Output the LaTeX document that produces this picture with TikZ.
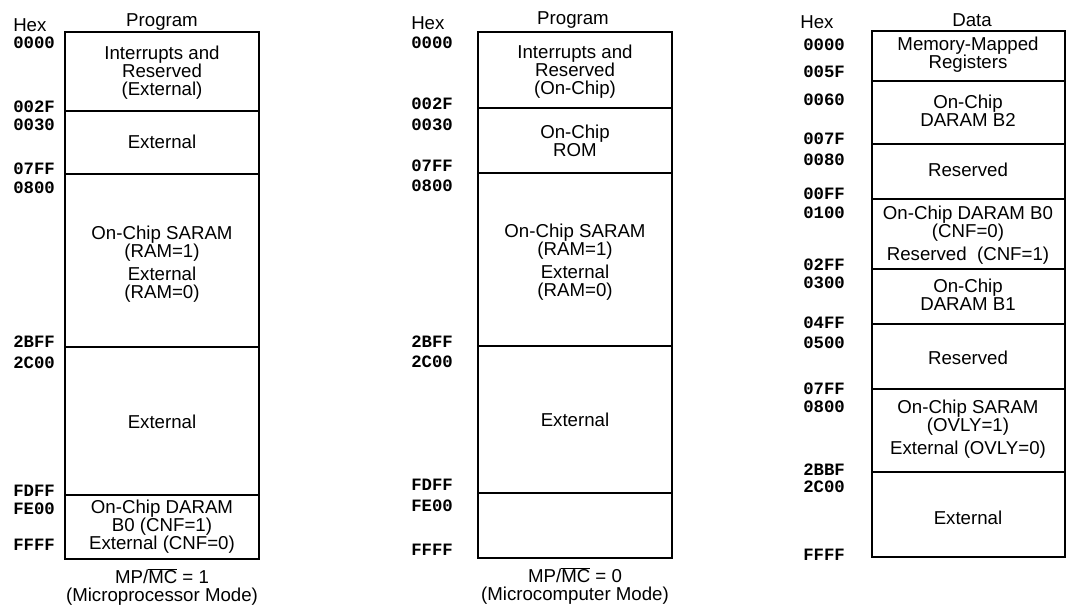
\documentclass[tikz,border=0pt]{standalone}
\usepackage{fontspec}
\setmainfont{Liberation Sans}
\setmonofont{Liberation Mono}
\usetikzlibrary{positioning}

\begin{document}
\begin{tikzpicture}[x=0.75pt, y=-0.75pt,
    mapbox/.style={line width=1.4pt},
    divider/.style={line width=1.0pt},
    memtext/.style={font=\fontsize{14}{13.5}\selectfont, align=center, inner sep=0pt},
    hexlabel/.style={font=\fontsize{13}{13}\selectfont\ttfamily\bfseries, anchor=west, inner sep=0pt}]

    \useasboundingbox (0,0) rectangle (1067,609);

    % ── LEFT: PROGRAM, MICROPROCESSOR MODE ────────────────────────────
    \begin{scope}
        \node[memtext, anchor=west] (hexA) at (13,25) {Hex};
        \node[memtext] (progA) at (162,22) {Program};
        \draw[mapbox] (65,32) rectangle (259,559);
        \foreach \ypos in {111,174,347,495}
            \draw[divider] (65,\ypos) -- (259,\ypos);
        \foreach \addr/\ypos in {0000/43,002F/107,0030/125,07FF/169,0800/188,
                                 2BFF/342,2C00/363,FDFF/491,FE00/509,FFFF/545}
            \node[hexlabel] (hexA-\addr) at (13,\ypos) {\addr};

        \node[memtext] (intA) at (162,73) {Interrupts and\\Reserved\\(External)};
        \node[memtext] (extA1) at (162,142) {External};
        \node[memtext] (saramA) at (162,264) {On-Chip SARAM\\(RAM=1)\\[4pt]External\\(RAM=0)};
        \node[memtext] (extA2) at (162,422) {External};
        \node[memtext] (daramA) at (162,527) {On-Chip DARAM\\B0 (CNF=1)\\External (CNF=0)};
        \node[memtext] (modeA) at (162,587) {MP/$\overline{\mbox{MC}}$ = 1\\(Microprocessor Mode)};
    \end{scope}

    % ── MIDDLE: PROGRAM, MICROCOMPUTER MODE ───────────────────────────
    \begin{scope}
        \node[memtext, anchor=west] (hexB) at (411,23) {Hex};
        \node[memtext] (progB) at (573,20) {Program};
        \draw[mapbox] (478,32) rectangle (672,558);
        \foreach \ypos in {108,173,346,493}
            \draw[divider] (478,\ypos) -- (672,\ypos);
        \foreach \addr/\ypos in {0000/43,002F/104,0030/125,07FF/166,0800/186,
                                 2BFF/342,2C00/362,FDFF/485,FE00/506,FFFF/550}
            \node[hexlabel] (hexB-\addr) at (411,\ypos) {\addr};

        \node[memtext] (intB) at (575,72) {Interrupts and\\Reserved\\(On-Chip)};
        \node[memtext] (romB) at (575,141) {On-Chip\\ROM};
        \node[memtext] (saramB) at (575,262) {On-Chip SARAM\\(RAM=1)\\[4pt]External\\(RAM=0)};
        \node[memtext] (extB) at (575,420) {External};
        \node[memtext] (modeB) at (575,586) {MP/$\overline{\mbox{MC}}$ = 0\\(Microcomputer Mode)};
    \end{scope}

    % ── RIGHT: DATA ───────────────────────────────────────────────────
    \begin{scope}
        \node[memtext, anchor=west] (hexC) at (800,22) {Hex};
        \node[memtext] (dataC) at (972,20) {Data};
        \draw[mapbox] (872,31) rectangle (1065,557);
        \foreach \ypos in {81,144,199,269,324,389,472}
            \draw[divider] (872,\ypos) -- (1065,\ypos);
        \foreach \addr/\ypos in {0000/45,005F/72,0060/100,007F/139,0080/160,
                                 00FF/194,0100/213,02FF/265,0300/283,04FF/323,
                                 0500/343,07FF/389,0800/407,2BBF/470,2C00/487,FFFF/555}
            \node[hexlabel] (hexC-\addr) at (803,\ypos) {\addr};

        \node[memtext] (mmrC) at (968,55) {Memory-Mapped\\Registers};
        \node[memtext] (daramB2) at (968,111) {On-Chip\\DARAM B2};
        \node[memtext] (resC1) at (968,170) {Reserved};
        \node[memtext] (daramB0) at (968,235) {On-Chip DARAM B0\\(CNF=0)\\[4pt]Reserved\ \ (CNF=1)};
        \node[memtext] (daramB1) at (968,295) {On-Chip\\DARAM B1};
        \node[memtext] (resC2) at (968,358) {Reserved};
        \node[memtext] (saramC) at (968,429) {On-Chip SARAM\\(OVLY=1)\\[4pt]External (OVLY=0)};
        \node[memtext] (extC) at (968,518) {External};
    \end{scope}
\end{tikzpicture}
\end{document}
